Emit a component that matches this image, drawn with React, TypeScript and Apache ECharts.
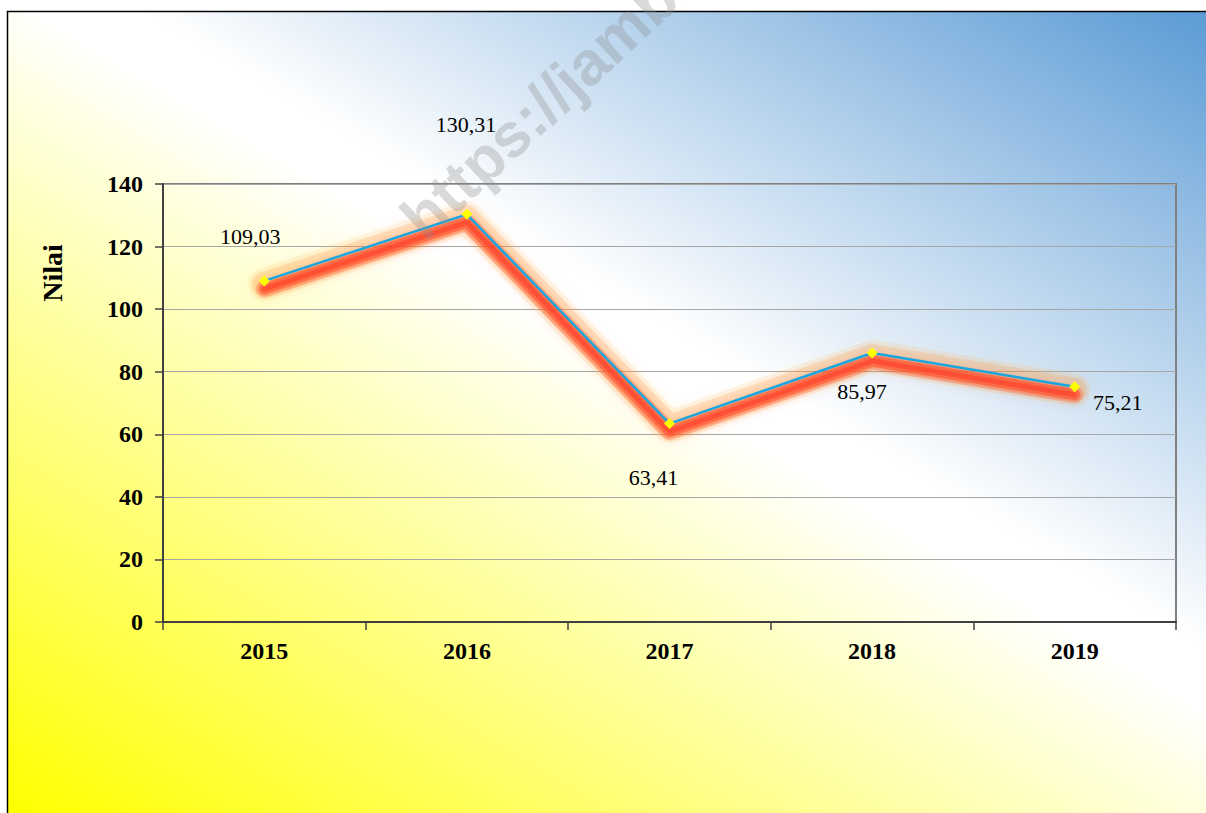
import React, { useEffect, useRef } from "react";
import * as echarts from "echarts";

const years = ["2015", "2016", "2017", "2018", "2019"];
const values = [109.03, 130.31, 63.41, 85.97, 75.21];
const yMin = 0;
const yMax = 140;
const yInterval = 20;
const yAxisTitle = "Nilai";
const watermarkText = "https://jambi.bps.go.id";
// label placement relative to each point (layout only)
const labelOffsets: number[][] = [
  [-14, -44],
  [-1, -90],
  [-16, 54],
  [-10, 38],
  [43, 16],
];

const SERIF = "'Liberation Serif', 'Times New Roman', serif";

export default function App() {
  const ref = useRef<HTMLDivElement>(null);
  useEffect(() => {
    if (!ref.current) return;
    const chart = echarts.init(ref.current, null, { renderer: "svg" });
    const L = 163, R = 30, T = 184, B = 191;
    const glowLayers = [
      { grid: 1, width: 32, color: "rgba(255,175,80,0.14)", blur: 14 },
      { grid: 1, width: 24, color: "rgba(255,145,60,0.22)", blur: 12 },
      { grid: 2, width: 17, color: "rgba(255,95,50,0.32)", blur: 10 },
      { grid: 2, width: 11, color: "rgba(255,70,40,0.48)", blur: 8 },
      { grid: 2, width: 5, color: "rgba(255,60,35,0.55)", blur: 6 },
    ];
    const option: any = {
      animation: false,
      graphic: [
        {
          type: "rect",
          z: -10,
          silent: true,
          shape: { x: 7.5, y: 11.5, width: 1202, height: 806 },
          style: {
            fill: new echarts.graphic.LinearGradient(
              278, 973, 945, -144,
              [
                { offset: 0, color: "#ffff00" },
                { offset: 0.54, color: "#ffffff" },
                { offset: 0.58, color: "#ffffff" },
                { offset: 1, color: "#5b9bd5" },
              ],
              true
            ),
            stroke: "#000000",
            lineWidth: 1.5,
          },
        },
        {
          type: "text",
          x: 52,
          y: 273,
          rotation: Math.PI / 2,
          style: {
            text: yAxisTitle,
            font: `bold 28px ${SERIF}`,
            fill: "#000",
            align: "center",
            verticalAlign: "middle",
          },
        },
        {
          type: "text",
          x: 432,
          y: 250,
          z: 100,
          rotation: (43 * Math.PI) / 180,
          silent: true,
          style: {
            text: watermarkText,
            font: `bold 62px 'Liberation Sans', Arial, sans-serif`,
            fill: "rgba(140,140,140,0.32)",
            align: "left",
            verticalAlign: "bottom",
          },
        },
      ],
      grid: [
        {
          left: L, right: R, top: T, bottom: B,
          show: true,
          borderColor: "#808080",
          borderWidth: 2,
          backgroundColor: "transparent",
        },
        { left: L, right: R, top: T + 3, bottom: B - 3 },
        { left: L, right: R, top: T + 8, bottom: B - 8 },
      ],
      xAxis: [
        {
          type: "category",
          data: years,
          gridIndex: 0,
          axisLine: { lineStyle: { color: "#404040", width: 2 } },
          axisTick: { show: true, length: 8, lineStyle: { color: "#404040", width: 1.5 } },
          axisLabel: {
            color: "#000",
            fontFamily: SERIF,
            fontWeight: "bold",
            fontSize: 24,
            margin: 17,
          },
        },
        { type: "category", data: years, gridIndex: 1, show: false },
        { type: "category", data: years, gridIndex: 2, show: false },
      ],
      yAxis: [
        {
          type: "value",
          min: yMin,
          max: yMax,
          interval: yInterval,
          gridIndex: 0,
          axisLine: { show: true, lineStyle: { color: "#404040", width: 2 } },
          axisTick: { show: true, length: 8, lineStyle: { color: "#404040", width: 1.5 } },
          splitLine: { lineStyle: { color: "#a6a6a6", width: 1 } },
          axisLabel: {
            color: "#000",
            fontFamily: SERIF,
            fontWeight: "bold",
            fontSize: 24,
            margin: 20,
          },
        },
        { type: "value", min: yMin, max: yMax, gridIndex: 1, show: false },
        { type: "value", min: yMin, max: yMax, gridIndex: 2, show: false },
      ],
      series: [
        ...glowLayers.map((g, i) => ({
          type: "line",
          xAxisIndex: g.grid,
          yAxisIndex: g.grid,
          data: values,
          z: 1 + i * 0.1,
          symbol: "none",
          silent: true,
          lineStyle: {
            color: g.color,
            width: g.width,
            shadowBlur: g.blur,
            shadowColor: g.color,
            join: "round",
            cap: "round",
          },
        })),
        {
          type: "line",
          xAxisIndex: 0,
          yAxisIndex: 0,
          data: values.map((v, i) => ({
            value: v,
            label: { offset: labelOffsets[i] },
          })),
          z: 5,
          symbol: "diamond",
          symbolSize: 11,
          itemStyle: { color: "#ffff00", borderWidth: 0 },
          lineStyle: { color: "#1aa6e0", width: 2.5 },
          label: {
            show: true,
            position: "inside",
            color: "#000",
            fontFamily: SERIF,
            fontSize: 22,
            formatter: (p: any) => (p.value as number).toFixed(2).replace(".", ","),
          },
        },
      ],
    };
    chart.setOption(option);
    return () => chart.dispose();
  }, []);
  return (
    <div
      ref={ref}
      style={{ position: "absolute", left: 0, top: 0, width: 1206, height: 813 }}
    />
  );
}
